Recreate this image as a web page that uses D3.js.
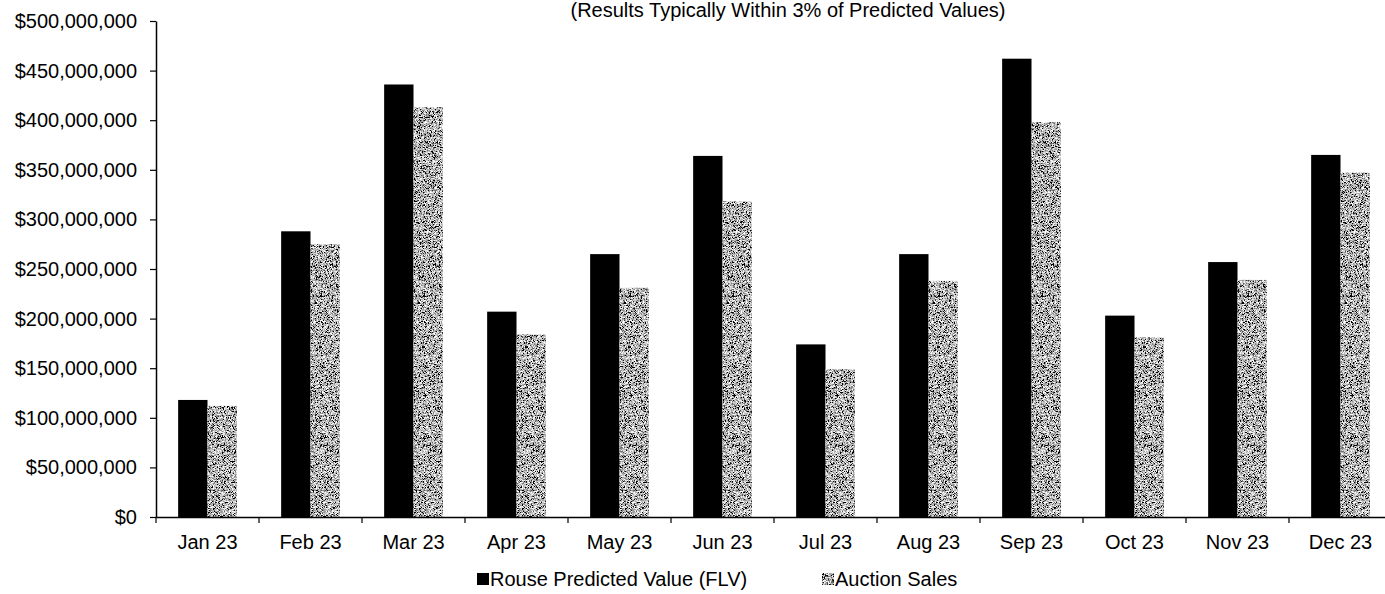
<!DOCTYPE html>
<html>
<head>
<meta charset="utf-8">
<script src="https://cdn.jsdelivr.net/npm/d3@7"></script>
<style>
  html, body { margin: 0; padding: 0; background: #fff; }
  svg { display: block; font-family: "Liberation Sans", Arial, sans-serif; }
</style>
</head>
<body>
<svg id="chart" width="1385" height="594"></svg>
<script>
// Monthly totals, in dollars
const months = ["Jan 23", "Feb 23", "Mar 23", "Apr 23", "May 23", "Jun 23",
                "Jul 23", "Aug 23", "Sep 23", "Oct 23", "Nov 23", "Dec 23"];
const predictedValues = [118e6, 288e6, 436e6, 207e6, 265e6, 364e6,
                         174e6, 265e6, 462e6, 203e6, 257e6, 365e6];
const auctionSales = [112e6, 275e6, 413e6, 184e6, 231e6, 318e6,
                      149e6, 238e6, 398e6, 181e6, 239e6, 347e6];
const seriesNames = ["Rouse Predicted Value (FLV)", "Auction Sales"];
const yTicks = [0, 50e6, 100e6, 150e6, 200e6, 250e6, 300e6, 350e6, 400e6, 450e6, 500e6];
const subtitle = "(Results Typically Within 3% of Predicted Values)";

const svg = d3.select("#chart");
const plotLeft = 156, plotRight = 1392, plotTop = 21, plotBottom = 517;

// speckled grey fill for the auction series
const defs = svg.append("defs");
const grain = defs.append("filter").attr("id", "grain")
  .attr("x", 0).attr("y", 0).attr("width", 1).attr("height", 1)
  .attr("filterUnits", "objectBoundingBox");
grain.append("feTurbulence").attr("type", "fractalNoise")
  .attr("baseFrequency", 1.8).attr("numOctaves", 1).attr("seed", 7).attr("result", "noise");
grain.append("feColorMatrix").attr("in", "noise").attr("type", "matrix")
  .attr("values", "3.4 0 0 0 -1.25  3.4 0 0 0 -1.25  3.4 0 0 0 -1.25  0 0 0 0 1")
  .attr("result", "grey");
grain.append("feComposite").attr("in", "grey").attr("in2", "SourceGraphic").attr("operator", "in");

const x = d3.scaleBand().domain(months).range([plotLeft, plotRight])
  .paddingInner(0.43).paddingOuter(0.215);
const xs = d3.scaleBand().domain(seriesNames).range([0, x.bandwidth()]).padding(0);
const y = d3.scaleLinear().domain([0, 500e6]).range([plotBottom, plotTop]);

const rows = months.map((m, i) => ({ month: m, values: [predictedValues[i], auctionSales[i]] }));

// bars
const groups = svg.append("g").selectAll("g").data(rows).join("g")
  .attr("transform", d => `translate(${x(d.month)},0)`);
groups.selectAll("rect")
  .data(d => d.values.map((v, k) => ({ name: seriesNames[k], value: v, k })))
  .join("rect")
  .attr("x", d => xs(d.name))
  .attr("width", xs.bandwidth())
  .attr("y", d => y(d.value))
  .attr("height", d => y(0) - y(d.value))
  .attr("fill", d => d.k === 0 ? "#000" : "#999")
  .attr("filter", d => d.k === 0 ? null : "url(#grain)");

// y axis
const yAxis = svg.append("g").attr("transform", `translate(${plotLeft},0)`)
  .call(d3.axisLeft(y).tickValues(yTicks).tickSize(6).tickSizeOuter(0).tickPadding(13)
    .tickFormat(v => "$" + d3.format(",")(v)));
yAxis.select(".domain").attr("stroke", "#000").attr("stroke-width", 1.5);
yAxis.selectAll(".tick line").attr("stroke", "#000").attr("stroke-width", 1.2);
yAxis.selectAll("text").attr("font-size", 20).attr("fill", "#000");

// x axis: labels at band centres, ticks at band boundaries
const xAxis = svg.append("g").attr("transform", `translate(0,${plotBottom})`)
  .call(d3.axisBottom(x).tickSize(0).tickSizeOuter(0).tickPadding(18));
xAxis.select(".domain").attr("stroke", "#000").attr("stroke-width", 1.5);
xAxis.selectAll("text").attr("font-size", 20).attr("fill", "#000");
const gapHalf = (x.step() - x.bandwidth()) / 2;
const bounds = months.map(m => x(m) - gapHalf).concat([x(months[months.length - 1]) + x.bandwidth() + gapHalf]);
xAxis.selectAll("line.bound").data(bounds).join("line").attr("class", "bound")
  .attr("x1", d => d).attr("x2", d => d).attr("y1", 0).attr("y2", 6)
  .attr("stroke", "#000").attr("stroke-width", 1.2);

// subtitle
svg.append("text").attr("x", 788).attr("y", 17).attr("text-anchor", "middle")
  .attr("font-size", 20).attr("fill", "#000").text(subtitle);

// legend
const legend = svg.append("g").attr("transform", "translate(477,579)");
const legendItems = [
  { name: seriesNames[0], x: 0, grey: false },
  { name: seriesNames[1], x: 345, grey: true }
];
const li = legend.selectAll("g").data(legendItems).join("g")
  .attr("transform", d => `translate(${d.x},0)`);
li.append("rect").attr("x", 0).attr("y", -6).attr("width", 12).attr("height", 12)
  .attr("fill", d => d.grey ? "#a0a0a0" : "#000")
  .attr("filter", d => d.grey ? "url(#grain)" : null);
li.append("text").attr("x", 13).attr("y", 0).attr("dy", "0.35em")
  .attr("font-size", 20).attr("fill", "#000").text(d => d.name);
</script>
</body>
</html>
